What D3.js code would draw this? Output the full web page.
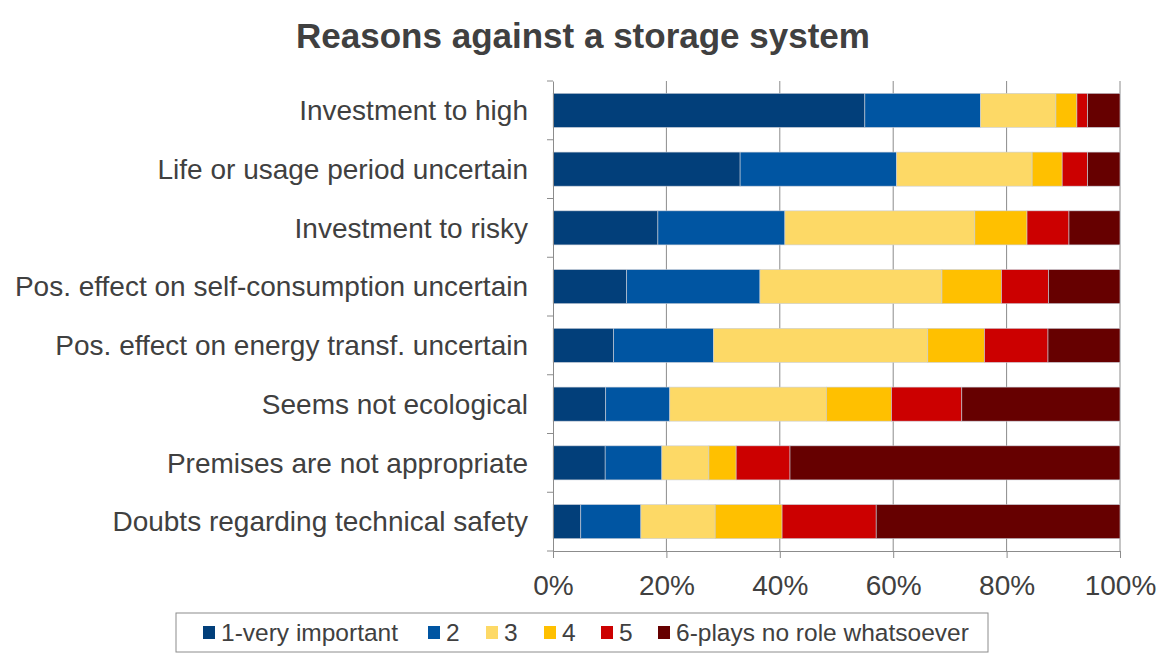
<!DOCTYPE html>
<html><head><meta charset="utf-8">
<script src="https://cdn.jsdelivr.net/npm/d3@7"></script>
<style>body{margin:0;background:#fff;}svg{display:block;font-family:Arial,"Liberation Sans",sans-serif;}</style>
</head><body><svg id="c" width="1166" height="661"></svg>
<script>
const categories = ["Investment to high","Life or usage period uncertain","Investment to risky","Pos. effect on self-consumption uncertain","Pos. effect on energy transf. uncertain","Seems not ecological","Premises are not appropriate","Doubts regarding technical safety"];
const seriesNames = ["1-very important","2","3","4","5","6-plays no role whatsoever"];
const s1 = [55.0,33.0,18.5,13.0,10.7,9.3,9.2,4.9];
const s2 = [20.4,27.6,22.4,23.5,17.6,11.3,10.0,10.6];
const s3 = [13.3,23.9,33.5,32.1,37.8,27.6,8.3,13.1];
const s4 = [3.7,5.3,9.2,10.5,10.0,11.5,4.8,11.8];
const s5 = [1.9,4.5,7.4,8.3,11.2,12.4,9.5,16.6];
const s6 = [5.7,5.7,9.0,12.6,12.7,27.9,58.2,43.0];
const colors = ["#023f7a","#0055a2","#fdd966","#ffc000","#cc0000","#660000"];
const xTicks = [0,20,40,60,80,100];
const title = "Reasons against a storage system";

const svg = d3.select("#c");
const L=553,R=1120,T=81,B=551;
const FF = "Arial,'Liberation Sans',sans-serif";
const x = d3.scaleLinear().domain([0,100]).range([L,R]);
const y = d3.scaleBand().domain(categories).range([T,B]).paddingInner(0.42).paddingOuter(0.21);
const yb = d3.scaleBand().domain(categories).range([T,B]);
const series=[s1,s2,s3,s4,s5,s6];
const rows = categories.map((c,i)=>{const o={cat:c};seriesNames.forEach((n,j)=>o[n]=series[j][i]);return o;});
const stacked = d3.stack().keys(seriesNames)(rows);

svg.append("text").attr("x",583).attr("y",48).attr("text-anchor","middle")
  .attr("font-size",35).attr("font-weight","bold").attr("fill","#404040").text(title);

// gridlines
svg.append("g").selectAll("line").data(xTicks.slice(1)).join("line")
  .attr("x1",d=>x(d)).attr("x2",d=>x(d)).attr("y1",T).attr("y2",B)
  .attr("stroke","#8c8c8c").attr("stroke-width",1);

// bars
svg.append("g").selectAll("g").data(stacked).join("g").attr("fill",(d,i)=>colors[i])
 .selectAll("rect").data(d=>d).join("rect")
 .attr("x",d=>x(d[0])).attr("width",d=>x(d[1])-x(d[0]))
 .attr("y",d=>y(d.data.cat)).attr("height",y.bandwidth())
 .attr("stroke","#c9ced8").attr("stroke-width",0.6);

// axes
const xAxis = d3.axisBottom(x).tickValues(xTicks).tickFormat(d=>d+"%").tickSize(7).tickSizeOuter(0);
const gx = svg.append("g").attr("transform",`translate(0,${B})`).call(xAxis);
gx.select(".domain").attr("stroke","#8c8c8c");
gx.selectAll(".tick line").attr("stroke","#8c8c8c");
gx.selectAll("text").attr("font-size",28).attr("fill","#404040").attr("y",34).attr("dy","0.35em").attr("font-family",FF);

const yAxis = d3.axisLeft(yb).tickSize(0).tickSizeOuter(0);
const gy = svg.append("g").attr("transform",`translate(${L},0)`).call(yAxis);
gy.select(".domain").attr("stroke","#8c8c8c");
gy.selectAll(".tick text").attr("font-size",28).attr("fill","#404040").attr("x",-25).attr("dy","0.35em").attr("font-family",FF);
// boundary ticks on y axis
svg.append("g").selectAll("line").data(d3.range(categories.length+1)).join("line")
  .attr("x1",L-6).attr("x2",L).attr("y1",i=>T+i*yb.step()).attr("y2",i=>T+i*yb.step())
  .attr("stroke","#8c8c8c");

// legend
const lg = svg.append("g");
lg.append("rect").attr("x",176).attr("y",613).attr("width",812).attr("height",39)
  .attr("fill","#fff").attr("stroke","#8c8c8c").attr("stroke-width",1);
const lx=[203,428,486,544,601,658];
seriesNames.forEach((n,i)=>{
  lg.append("rect").attr("x",lx[i]).attr("y",626).attr("width",12).attr("height",13).attr("fill",colors[i]);
  lg.append("text").attr("x",lx[i]+18).attr("y",641).attr("font-size",24.5).attr("fill","#404040").text(n);
});
</script></body></html>
